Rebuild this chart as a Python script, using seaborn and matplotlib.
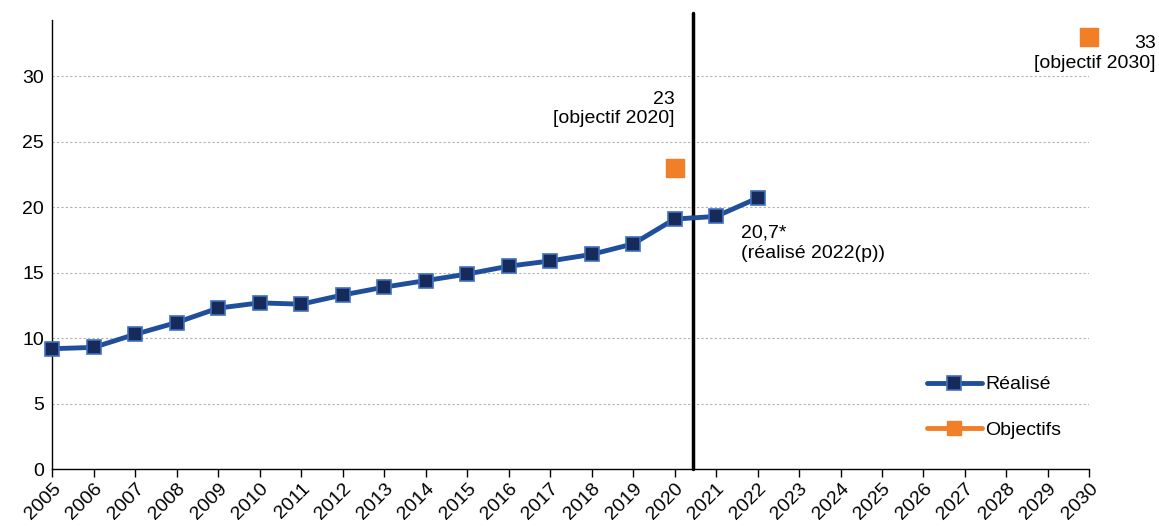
import matplotlib
matplotlib.use('Agg')
from matplotlib import pyplot as plt
import seaborn as sns
import pandas as pd

years = list(range(2005, 2023))
realise = [9.2, 9.3, 10.3, 11.2, 12.3, 12.7, 12.6, 13.3, 13.9, 14.4, 14.9, 15.5, 15.9, 16.4, 17.2, 19.1, 19.3, 20.7]
objectif_years = [2020, 2030]
objectifs = [23, 33]
tick_years = list(range(2005, 2031))

sns.set_style('white')
plt.rcParams['font.family'] = ['Liberation Sans', 'DejaVu Sans']
plt.rcParams['text.color'] = 'black'
plt.rcParams['xtick.color'] = 'black'
plt.rcParams['ytick.color'] = 'black'

df = pd.DataFrame({'annee': years, 'valeur': realise})
df_obj = pd.DataFrame({'annee': objectif_years, 'valeur': objectifs})

fig = plt.figure(figsize=(11.59, 5.26), dpi=100)
ax = fig.add_axes([0.045, 0.108, 0.895, 0.854])

blue = '#1F4E9A'
navy = '#172B5A'
orange = '#F07F28'
fs = 14

sns.lineplot(data=df, x='annee', y='valeur', ax=ax, color=blue, linewidth=3.5,
             marker='s', markersize=10, markerfacecolor=navy,
             markeredgecolor='#3F6FC0', markeredgewidth=1.2, label='Réalisé',
             clip_on=False, zorder=4)
ax.plot([], [], color=orange, linewidth=3.5, marker='s', markersize=10,
        markerfacecolor=orange, markeredgecolor=orange, label='Objectifs')
sns.scatterplot(data=df_obj, x='annee', y='valeur', ax=ax, color=orange,
                marker='s', s=160, edgecolor=orange, legend=False, zorder=5,
                clip_on=False)

ax.axvline(2020.45, ymin=0, ymax=1.015, color='black', linewidth=2.5, clip_on=False)

ax.set_xlim(2005, 2030)
ax.set_ylim(0, 34.3)
ax.set_yticks([0, 5, 10, 15, 20, 25, 30])
ax.set_xticks(tick_years)
ax.set_xticklabels([str(y) for y in tick_years], rotation=45, ha='right',
                   rotation_mode='anchor', fontsize=fs)
ax.tick_params(axis='y', labelsize=fs, length=0, pad=6)
ax.tick_params(axis='x', length=6, width=1, direction='out', bottom=True, pad=2)
ax.yaxis.grid(True, linestyle=(0, (2, 2)), color='#B0B0B0', linewidth=0.8)
ax.xaxis.grid(False)
ax.set_xlabel('')
ax.set_ylabel('')
for s in ['top', 'right']:
    ax.spines[s].set_visible(False)
for s in ['left', 'bottom']:
    ax.spines[s].set_color('black')
    ax.spines[s].set_linewidth(1)

ax.text(2020, 27.5, '23\n[objectif 2020]', ha='right', va='center', fontsize=fs,
        linespacing=1.2)
ax.text(2031.6, 31.75, '33\n[objectif 2030]', ha='right', va='center', fontsize=fs,
        linespacing=1.2, clip_on=False)
ax.text(2021.6, 17.25, '20,7*\n(réalisé 2022(p))', ha='left', va='center', fontsize=fs,
        linespacing=1.2)

ax.legend(loc='lower right', bbox_to_anchor=(0.99, 0.028), frameon=False, fontsize=fs,
          handlelength=2.8, labelspacing=1.45, handletextpad=0.2)

fig.savefig('out.png', dpi=100)
